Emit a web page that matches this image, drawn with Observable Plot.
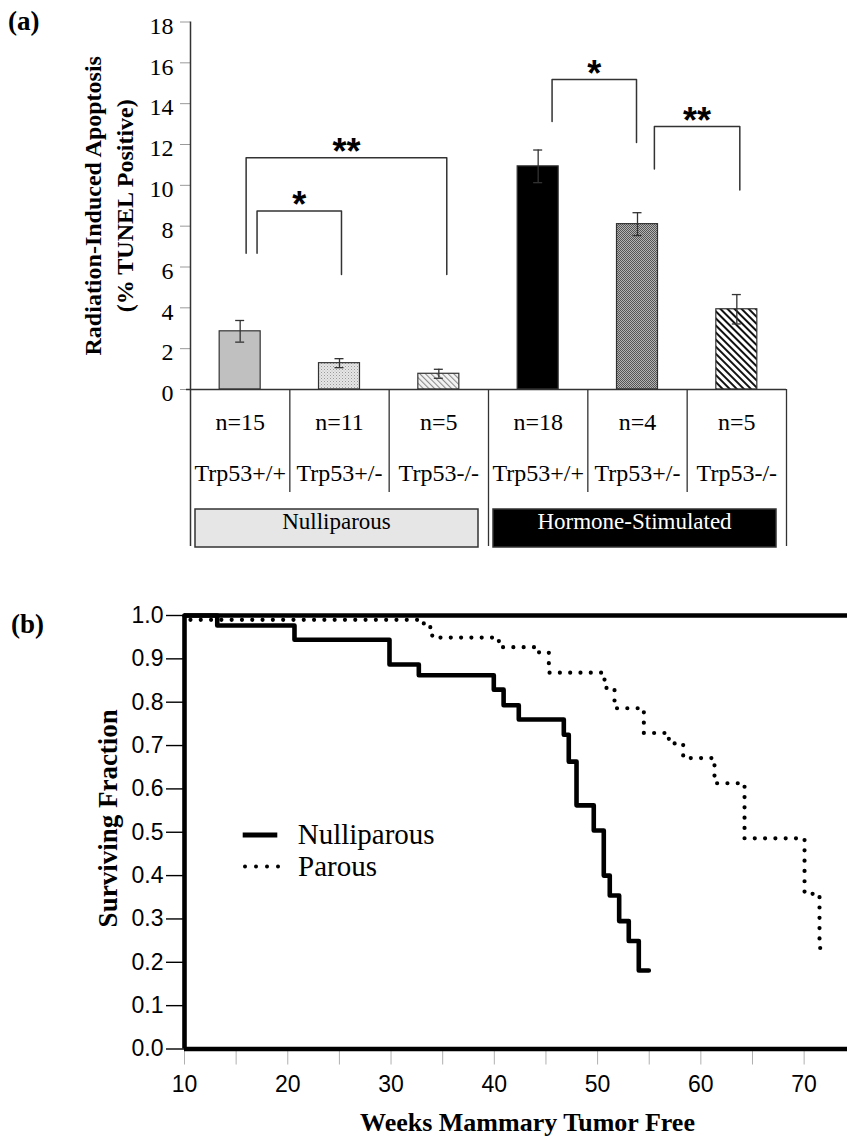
<!DOCTYPE html>
<html>
<head>
<meta charset="utf-8">
<script src="https://cdn.jsdelivr.net/npm/d3@7"></script>
<script src="https://cdn.jsdelivr.net/npm/@observablehq/plot@0.6"></script>
<style>
  body { margin: 0; background: #fff; }
  #fig { position: relative; width: 847px; height: 1142px; overflow: hidden; background: #fff; }
  #fig > svg.panel { position: absolute; left: 0; }
  #overlay { position: absolute; left: 0; top: 0; pointer-events: none; }
</style>
</head>
<body>
<div id="fig"></div>
<script>
// ---------------- Panel (a) data ----------------
const genotypes = ["Trp53+/+", "Trp53+/-", "Trp53-/-", "Trp53+/+", "Trp53+/-", "Trp53-/-"];
const cohorts = ["Nulliparous", "Nulliparous", "Nulliparous", "Hormone-Stimulated", "Hormone-Stimulated", "Hormone-Stimulated"];
const sampleSizes = [15, 11, 5, 18, 4, 5];
const apoptosisMean = [2.85, 1.29, 0.77, 10.93, 8.10, 3.93];
const apoptosisErr = [0.53, 0.22, 0.22, 0.80, 0.56, 0.72];
const cohortNames = ["Nulliparous", "Hormone-Stimulated"];
const cohortStart = [0, 3];
const cohortEnd = [3, 6];
const yTicksA = [0, 2, 4, 6, 8, 10, 12, 14, 16, 18];
// significance brackets (x in category-slot units, y in % TUNEL)
const sigLabels = ["**", "*", "*", "**"];
const sigLeftX = [0.56, 0.67, 3.64, 4.67];
const sigRightX = [2.58, 1.52, 4.49, 5.53];
const sigTop = [11.35, 8.74, 15.18, 12.88];
const sigLeftEnd = [6.67, 6.67, 13.13, 10.8];
const sigRightEnd = [5.63, 5.63, 12.1, 9.77];

// ---------------- Panel (b) data ----------------
const nulliWeeks = [10, 13.17, 20.65, 29.85, 32.69, 39.95, 40.9, 42.37, 46.73, 47.21, 47.96, 49.63, 50.6, 51.18, 52.09, 53.02, 53.99, 54.96];
const nulliSurv  = [1.0, 0.977, 0.944, 0.887, 0.862, 0.829, 0.793, 0.760, 0.725, 0.663, 0.562, 0.504, 0.400, 0.354, 0.295, 0.249, 0.181, 0.181];
const parousWeeks = [10, 10.4, 33.17, 33.99, 40.44, 44.31, 45.28, 50.67, 51.64, 54.48, 56.9, 58.29, 61.32, 64.23, 70.04, 71.49, 72.55];
const parousSurv  = [1.0, 0.99, 0.973, 0.949, 0.927, 0.915, 0.868, 0.833, 0.786, 0.729, 0.705, 0.671, 0.613, 0.486, 0.358, 0.233, 0.233];
const xMajorB = [10, 20, 30, 40, 50, 60, 70];
const xMinorB = [10, 15, 20, 25, 30, 35, 40, 45, 50, 55, 60, 65, 70];
const yTicksB = [0, 0.1, 0.2, 0.3, 0.4, 0.5, 0.6, 0.7, 0.8, 0.9, 1.0];
const legendNames = ["Nulliparous", "Parous"];

// ---------------- styles ----------------
const barFills = ["#c0c0c0", "url(#pStipple)", "url(#pHatchLight)", "#000000", "url(#pCheck)", "url(#pHatchDark)"];
const cohortFill = ["#e6e6e6", "#000000"];
const cohortText = ["#000000", "#ffffff"];
const serif = "Liberation Serif, Times New Roman, serif";
const sans = "Liberation Sans, Arial, sans-serif";

const fig = document.getElementById("fig");

// ---------------- Panel (a) ----------------
const HA = 590, topA = 21.5, baseA = 389, leftA = 190, rightA = 786;
const rowsA = genotypes.map((g, i) => ({i, genotype: g, cohort: cohorts[i], n: sampleSizes[i], mean: apoptosisMean[i], err: apoptosisErr[i]}));
const cohortRows = cohortNames.map((name, k) => ({k, name, start: cohortStart[k], end: cohortEnd[k]}));
const sigRows = sigLabels.map((label, k) => ({k, label, x1: sigLeftX[k], x2: sigRightX[k], top: sigTop[k], e1: sigLeftEnd[k], e2: sigRightEnd[k]}));
const sigPath = sigRows.flatMap(s => [
  {k: s.k, x: s.x1, y: s.e1}, {k: s.k, x: s.x1, y: s.top},
  {k: s.k, x: s.x2, y: s.top}, {k: s.k, x: s.x2, y: s.e2}
]);

const barW = 41, slotW = (rightA - leftA) / 6;
const barInset = (slotW - barW) / 2;
const capInset = (slotW - 9) / 2;
const innerDown = 492 - baseA, outerDown = 546 - baseA;
const boxTop = 509 - topA, boxDown = 547 - baseA;

const plotA = Plot.plot({
  width: 847, height: HA,
  marginTop: topA, marginBottom: HA - baseA, marginLeft: leftA, marginRight: 847 - rightA,
  style: {fontFamily: serif, background: "transparent", overflow: "visible", color: "#000"},
  x: {domain: [0, 6], axis: null},
  y: {domain: [0, 18]},
  marks: [
    // y axis ticks & labels
    Plot.axisY({ticks: yTicksA, tickSize: 10, tickFormat: () => "", stroke: "#9a9a9a", label: null}),
    Plot.axisY({ticks: yTicksA, tickSize: 0, tickPadding: 17, dy: 4, fontSize: 24, fontFamily: serif, label: null}),
    // axis line (runs down through the table)
    Plot.ruleX([0], {stroke: "#333", strokeWidth: 1.5, insetBottom: -outerDown}),
    // table dividers
    Plot.ruleX([1, 2, 4, 5], {stroke: "#333", strokeWidth: 1.3, insetTop: baseA - topA, insetBottom: -innerDown}),
    Plot.ruleX([3, 6], {stroke: "#333", strokeWidth: 1.3, insetTop: baseA - topA, insetBottom: -outerDown}),
    // cohort boxes
    ...cohortRows.map(c => Plot.rect([c], {x1: "start", x2: "end", fill: cohortFill[c.k], stroke: "#333", strokeWidth: 1.5,
      insetTop: boxTop, insetBottom: -boxDown, insetLeft: 5, insetRight: 10})),
    ...cohortRows.map(c => Plot.text([c], {x: d => (d.start + d.end) / 2 - 0.03, text: "name", frameAnchor: "bottom", dy: 139,
      fill: cohortText[c.k], fontSize: 23, fontFamily: serif})),
    // bars
    ...rowsA.map(r => Plot.rectY([r], {x1: "i", x2: d => d.i + 1, y: "mean", fill: barFills[r.i], stroke: "#333", strokeWidth: 1.2,
      insetLeft: barInset, insetRight: barInset})),
    // baseline
    Plot.ruleY([0], {stroke: "#333", strokeWidth: 1.5, insetLeft: -4}),
    // error bars
    Plot.ruleX(rowsA, {x: d => d.i + 0.5, y1: d => d.mean - d.err, y2: d => d.mean + d.err, stroke: "#333", strokeWidth: 1.3}),
    Plot.ruleY(rowsA, {x1: "i", x2: d => d.i + 1, y: d => d.mean + d.err, stroke: "#333", strokeWidth: 1.3, insetLeft: capInset, insetRight: capInset}),
    Plot.ruleY(rowsA, {x1: "i", x2: d => d.i + 1, y: d => d.mean - d.err, stroke: "#333", strokeWidth: 1.3, insetLeft: capInset, insetRight: capInset}),
    // significance brackets
    Plot.line(sigPath, {x: "x", y: "y", z: "k", stroke: "#333", strokeWidth: 1.5}),
    Plot.text(sigRows, {x: d => (d.x1 + d.x2) / 2, y: "top", text: "label", lineAnchor: "bottom", dy: 6,
      fontSize: 36, fontWeight: "bold", fontFamily: sans}),
    // table text
    Plot.text(rowsA, {x: d => d.i + 0.5, text: d => "n=" + d.n, frameAnchor: "bottom", dy: 40, fontSize: 24, fontFamily: serif}),
    Plot.text(rowsA, {x: d => d.i + 0.5, text: "genotype", frameAnchor: "bottom", dy: 91, fontSize: 24, fontFamily: serif}),
    // y label
    Plot.text(["Radiation-Induced Apoptosis\n(% TUNEL Positive)"], {text: d => d, frameAnchor: "left", textAnchor: "middle",
      rotate: -90, dx: -84, lineHeight: 1.33, fontSize: 24, fontWeight: "bold", fontFamily: serif})
  ]
});
plotA.classList.add("panel");
plotA.style.top = "0px";
d3.select(plotA).insert("defs", ":first-child").html(`
  <pattern id="pStipple" width="3" height="3" patternUnits="userSpaceOnUse">
    <rect width="3" height="3" fill="#e6e6e6"/><rect width="1" height="1" fill="#9a9a9a"/><rect x="1.5" y="1.5" width="1" height="1" fill="#b8b8b8"/>
  </pattern>
  <pattern id="pHatchLight" width="4" height="4" patternUnits="userSpaceOnUse" patternTransform="rotate(-45)">
    <rect width="4" height="4" fill="#f4f4f4"/><rect width="1.1" height="4" fill="#8c8c8c"/>
  </pattern>
  <pattern id="pCheck" width="2" height="2" patternUnits="userSpaceOnUse">
    <rect width="2" height="2" fill="#b4b4b4"/><rect width="1" height="1" fill="#555"/><rect x="1" y="1" width="1" height="1" fill="#555"/>
  </pattern>
  <pattern id="pHatchDark" width="5" height="5" patternUnits="userSpaceOnUse" patternTransform="rotate(-45)">
    <rect width="5" height="5" fill="#ffffff"/><rect width="2" height="5" fill="#111"/>
  </pattern>`);
fig.appendChild(plotA);

// ---------------- Panel (b) ----------------
const offB = 590, HB = 552, topB = 25, bottomB = 458.5, leftB = 184;
const nulliRows = nulliWeeks.map((w, i) => ({week: w, surv: nulliSurv[i]}));
const parousRows = parousWeeks.map((w, i) => ({week: w, surv: parousSurv[i]}));

const plotB = Plot.plot({
  width: 847, height: HB,
  marginTop: topB, marginBottom: HB - bottomB, marginLeft: leftB, marginRight: 0,
  style: {fontFamily: sans, background: "transparent", overflow: "visible", color: "#000"},
  x: {domain: [10, 74.2]},
  y: {domain: [0, 1]},
  marks: [
    Plot.axisX({ticks: xMinorB, tickSize: 16, tickFormat: () => "", stroke: "#b0b0b0", label: null}),
    Plot.axisX({ticks: xMajorB, tickSize: 0, tickPadding: 27, fontSize: 23, fontFamily: sans, label: null}),
    Plot.axisY({ticks: yTicksB, tickSize: 18, tickPadding: 3, tickFormat: d3.format(".1f"), fontSize: 23, fontFamily: sans,
      strokeWidth: 1.4, label: null}),
    Plot.line(parousRows, {x: "week", y: "surv", curve: "step-after", stroke: "#000", strokeWidth: 4.2,
      strokeDasharray: "0,10.3", strokeLinecap: "round"}),
    Plot.line(nulliRows, {x: "week", y: "surv", curve: "step-after", stroke: "#000", strokeWidth: 4.6}),
    Plot.ruleY([0, 1], {stroke: "#000", strokeWidth: 4.6}),
    Plot.ruleX([10], {stroke: "#000", strokeWidth: 4.6}),
    Plot.text(["Surviving Fraction"], {text: d => d, frameAnchor: "left", textAnchor: "middle", rotate: -90, dx: -76, dy: -14,
      fontSize: 27, fontWeight: "bold", fontFamily: serif}),
    Plot.text(["Weeks Mammary Tumor Free"], {text: d => d, frameAnchor: "bottom", textAnchor: "middle", lineAnchor: "bottom",
      dx: 11.5, dy: 81.5, fontSize: 26, fontWeight: "bold", fontFamily: serif})
  ]
});
plotB.classList.add("panel");
plotB.style.top = offB + "px";
fig.appendChild(plotB);

// ---------------- overlay: panel tags & legend ----------------
const ov = d3.select(fig).append("svg").attr("id", "overlay").attr("width", 847).attr("height", 1142);
ov.append("text").attr("x", 8).attr("y", 30).attr("font-family", serif).attr("font-weight", "bold").attr("font-size", 27).text("(a)");
ov.append("text").attr("x", 11).attr("y", 633).attr("font-family", serif).attr("font-weight", "bold").attr("font-size", 27).text("(b)");
const leg = ov.append("g");
leg.append("line").attr("x1", 242.7).attr("x2", 277.3).attr("y1", 835).attr("y2", 835).attr("stroke", "#000").attr("stroke-width", 5);
leg.append("line").attr("x1", 245).attr("x2", 282).attr("y1", 866.5).attr("y2", 866.5).attr("stroke", "#000").attr("stroke-width", 4)
  .attr("stroke-dasharray", "0,11").attr("stroke-linecap", "round");
leg.append("text").attr("x", 297.7).attr("y", 843.5).attr("font-family", serif).attr("font-size", 29).text(legendNames[0]);
leg.append("text").attr("x", 298).attr("y", 876).attr("font-family", serif).attr("font-size", 29).text(legendNames[1]);
</script>
</body>
</html>
